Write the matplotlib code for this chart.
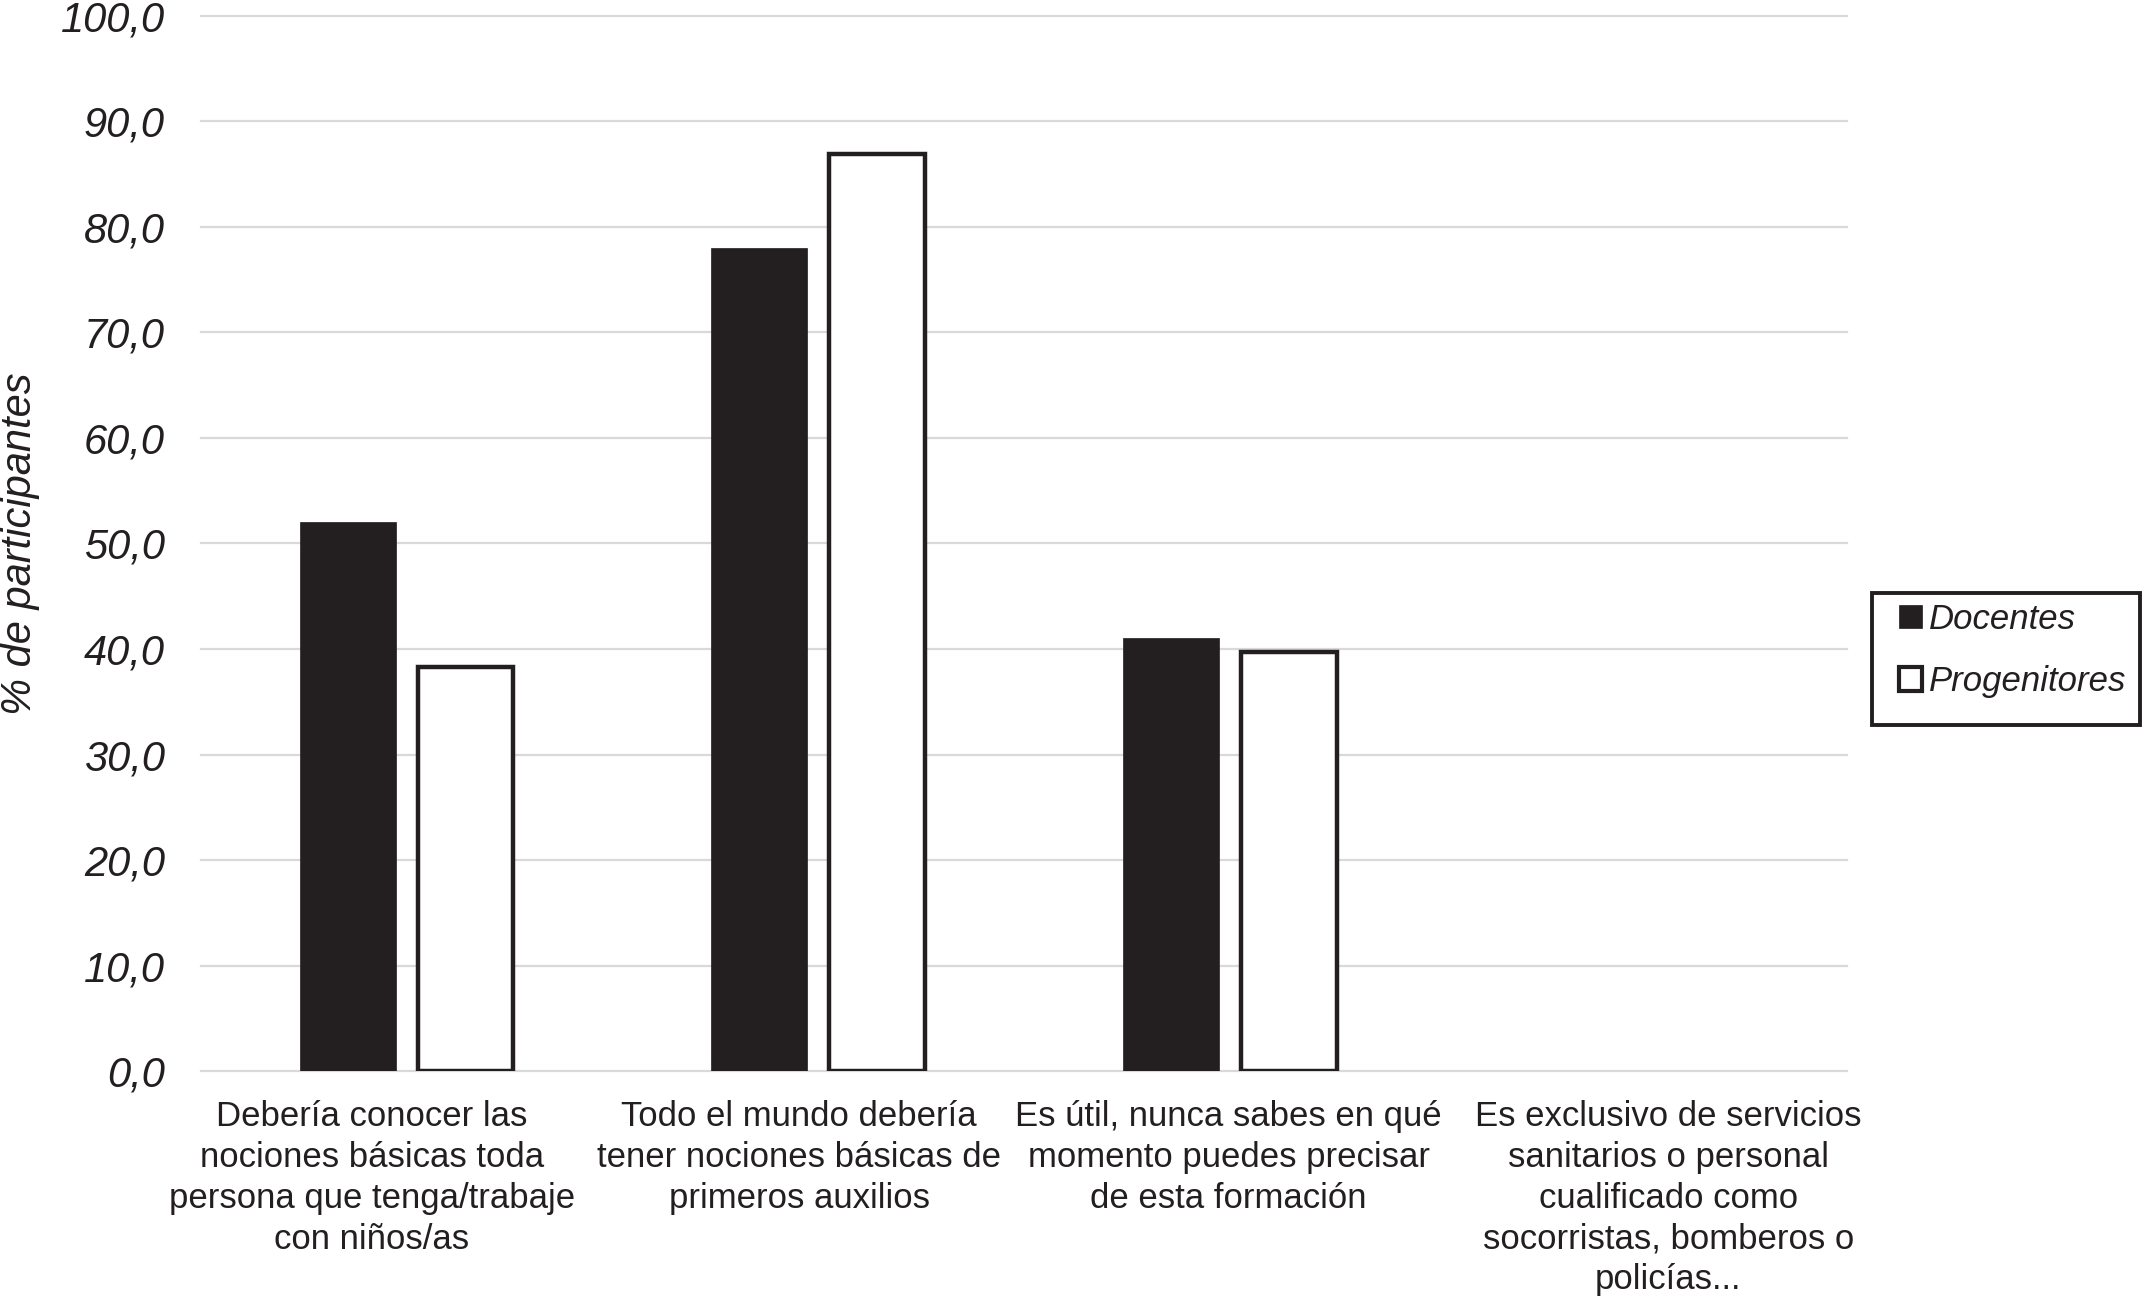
import numpy as np
import matplotlib
matplotlib.use('Agg')
from matplotlib import pyplot as plt
from matplotlib.patches import Patch, Rectangle
from matplotlib.transforms import ScaledTranslation

categorias = [
    'Debería conocer las\nnociones básicas toda\npersona que tenga/trabaje\ncon niños/as',
    'Todo el mundo debería\ntener nociones básicas de\nprimeros auxilios',
    'Es útil, nunca sabes en qué\nmomento puedes precisar\nde esta formación',
    'Es exclusivo de servicios\nsanitarios o personal\ncualificado como\nsocorristas, bomberos o\npolicías...',
]
docentes = [52.0, 78.0, 41.0, 0.0]
progenitores = [38.3, 86.9, 39.7, 0.0]
yticks = np.arange(0, 101, 10)
ytick_labels = ['%.1f' % v for v in yticks]
ytick_labels = [s.replace('.', ',') for s in ytick_labels]

dark = '#231f20'
plt.rcParams['font.family'] = ['Liberation Sans', 'DejaVu Sans']

fig = plt.figure(figsize=(21.42, 13.09), dpi=100)
ax = fig.add_axes([0.0938, 0.1818, 0.8623 - 0.0938, 0.9878 - 0.1818])

x = np.arange(len(categorias))
w = 0.233
off = 0.143
# no outline on empty bars
lw_doc = [0.5 if v > 0 else 0 for v in docentes]
lw_pro = [3.2 if v > 0 else 0 for v in progenitores]
ax.bar(x - off, docentes, w, color=dark, edgecolor=dark, linewidth=lw_doc, zorder=3)
ax.bar(x + off, progenitores, w, color='white', edgecolor=dark, linewidth=lw_pro, zorder=3)

ax.set_xlim(-0.5, len(categorias) - 0.5)
ax.set_ylim(0, 100)
ax.set_yticks(yticks)
ax.set_yticklabels(ytick_labels, fontsize=30, style='italic', color=dark)
ax.set_xticks(x)
ax.set_xticklabels(categorias, fontsize=25, color=dark, linespacing=1.3)
ax.tick_params(axis='y', length=0, pad=26)
ax.tick_params(axis='x', length=0, pad=21)
# the labels in the original are not quite centred under their groups
shifts = [-35, -19, -1, 27]
for lab, dx in zip(ax.get_xticklabels(), shifts):
    lab.set_transform(lab.get_transform() + ScaledTranslation(dx / 100, 0, fig.dpi_scale_trans))
for s in ax.spines.values():
    s.set_visible(False)
ax.yaxis.grid(True, color='#d9d9d9', linewidth=1.6, zorder=0)
for gl in ax.get_ygridlines():
    gl.set_clip_on(False)
ax.set_axisbelow(True)

fig.text(0.0095, 0.585, '% de participantes', rotation=90, fontsize=30,
         style='italic', color=dark, ha='center', va='center')

# legend box drawn separately so the padding can be uneven like the original
W, H = 2142, 1309
box = Rectangle((1872 / W, 1 - 725 / H), (2140 - 1872) / W, (725 - 593) / H,
                transform=fig.transFigure, facecolor='white', edgecolor=dark,
                linewidth=2.8, zorder=5)
fig.add_artist(box)
handles = [Patch(facecolor=dark, edgecolor=dark, linewidth=0.5),
           Patch(facecolor='white', edgecolor=dark, linewidth=3)]
leg = fig.legend(handles, ['Docentes', 'Progenitores'], loc='upper left',
                 bbox_to_anchor=(1899 / W, 1 - 603 / H), borderaxespad=0,
                 prop={'size': 25, 'style': 'italic'}, frameon=False,
                 handlelength=0.65, handleheight=0.65, handletextpad=0.22,
                 labelspacing=0.84, borderpad=0)
leg.set_zorder(6)
for t in leg.get_texts():
    t.set_color(dark)

fig.savefig('out.png', dpi=100)
